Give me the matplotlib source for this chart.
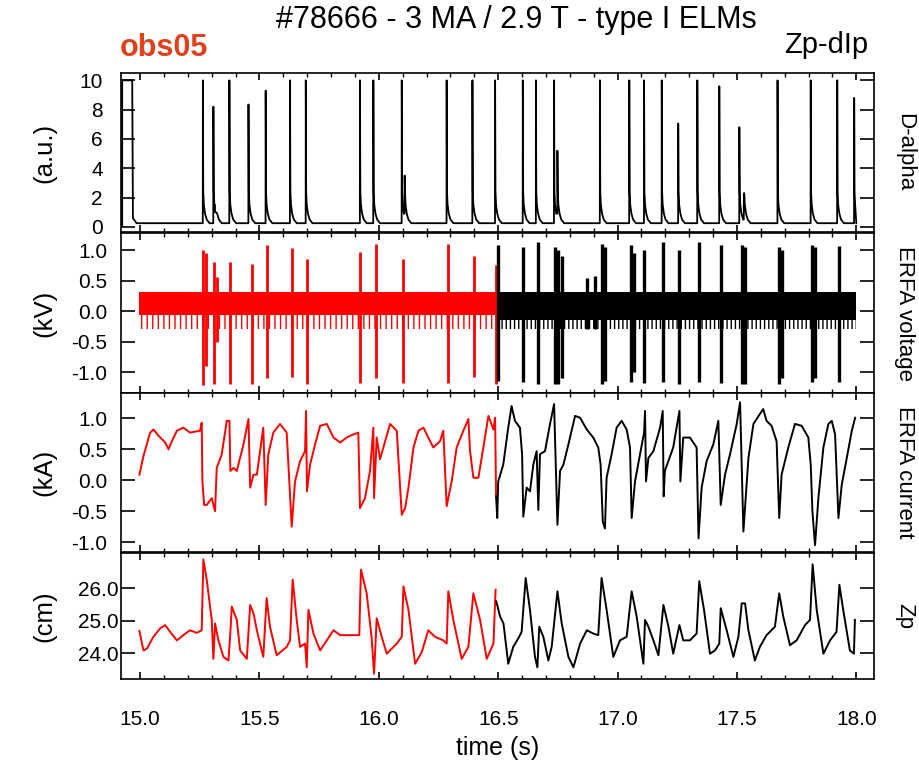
import matplotlib
matplotlib.use("Agg")
import matplotlib.pyplot as plt
import numpy as np

plt.rcParams['font.family'] = ['Liberation Sans', 'DejaVu Sans']
plt.rcParams['hatch.linewidth'] = 1.0

# ---------------- data ----------------
# ELM times (s) and D-alpha peak heights (a.u.)
elm_t = [15.263, 15.307, 15.374, 15.454, 15.526, 15.628, 15.694, 15.921, 15.977,
         16.096, 16.284, 16.392, 16.487, 16.603, 16.658, 16.734, 16.926, 17.049,
         17.111, 17.185, 17.254, 17.334, 17.426, 17.510, 17.670, 17.809, 17.920, 17.991]
elm_peak = [10, 8.2, 10, 8.35, 9.3, 10, 10, 10, 10,
            10, 10, 10, 10, 10, 10, 10, 10, 10,
            10, 10, 7.05, 10, 9.6, 6.8, 10, 10, 10, 8.8]
# secondary small D-alpha bursts
bump_t = [15.314, 16.108, 16.748, 17.529]
bump_h = [1.0, 3.5, 5.2, 2.3]
# D-alpha decay after a burst: delay (s) and level (a.u.)
decay_dt = [0.0015, 0.004, 0.009, 0.016, 0.028]
decay_lvl = [2.4, 1.5, 0.9, 0.5, 0.25]
dalpha_base = 0.25
# saturated start of the trace
dalpha_start_t = [14.925, 14.925, 14.967, 14.970, 14.985]
dalpha_start_v = [0.0, 10.0, 10.0, 0.6, 0.25]
dalpha_end_t = 18.0

# ERFA voltage: switching band envelope (kV)
band_hi = 0.32
band_lo_sparse = -0.30
band_red_t = [14.995, 16.49]
band_red_lo_dense = -0.07
band_black_t = [16.49, 18.0]
band_black_lo_dense = -0.15
# ERFA voltage spikes: time, max, min (red part)
vr_t = [15.262, 15.276, 15.311, 15.321, 15.377, 15.468, 15.530, 15.635, 15.701,
        15.921, 15.988, 16.103, 16.291, 16.400, 16.491]
vr_hi = [1.00, 0.95, 0.81, 0.56, 0.80, 0.78, 1.08, 1.03, 0.86,
         0.97, 1.10, 0.85, 1.10, 0.90, 0.75]
vr_lo = [-1.21, -0.90, -1.20, -0.50, -1.20, -1.20, -1.10, -1.08, -1.20,
         -1.17, -1.10, -1.17, -1.17, -1.08, -1.20]
# black part
vb_t = [16.500, 16.605, 16.668, 16.738, 16.752, 16.766, 16.871, 16.906, 16.933, 16.947,
        17.055, 17.069, 17.112, 17.189, 17.259, 17.339, 17.432, 17.520, 17.534,
        17.674, 17.687, 17.813, 17.827, 17.929]
vb_hi = [1.08, 1.05, 1.13, 1.05, 1.00, 0.90, 0.54, 0.58, 1.10, 1.05,
         1.08, 0.95, 1.00, 1.13, 1.00, 1.13, 1.08, 1.08, 1.05,
         1.05, 1.00, 1.08, 1.05, 1.06]
vb_lo = [-1.15, -1.16, -1.20, -1.20, -1.20, -1.10, -0.30, -0.30, -1.19, -1.15,
         -1.16, -1.00, -1.17, -1.16, -1.20, -1.16, -1.17, -1.20, -1.20,
         -1.20, -1.10, -1.16, -1.10, -1.16]

# ERFA current (kA)
cur_red_t = [14.997, 15.014, 15.042, 15.056, 15.077, 15.105, 15.119, 15.133, 15.154, 15.181,
             15.209, 15.251, 15.258, 15.261, 15.268, 15.279, 15.300, 15.314, 15.321, 15.342,
             15.363, 15.374, 15.378, 15.391, 15.405, 15.433, 15.454, 15.461, 15.475, 15.489,
             15.516, 15.526, 15.537, 15.558, 15.586, 15.614, 15.635, 15.649, 15.670, 15.691,
             15.695, 15.699, 15.712, 15.733, 15.754, 15.782, 15.810, 15.838, 15.865, 15.893,
             15.914, 15.921, 15.942, 15.963, 15.977, 15.980, 15.991, 16.005, 16.019, 16.047,
             16.075, 16.096, 16.110, 16.124, 16.145, 16.166, 16.187, 16.207, 16.228, 16.256,
             16.270, 16.284, 16.305, 16.326, 16.354, 16.375, 16.382, 16.396, 16.417, 16.431,
             16.459, 16.480, 16.487, 16.491]
cur_red_v = [0.09, 0.39, 0.77, 0.82, 0.72, 0.61, 0.50, 0.63, 0.80, 0.85,
             0.77, 0.80, 0.93, -0.02, -0.40, -0.40, -0.29, -0.50, 0.20, 0.42,
             0.96, 0.96, 0.15, 0.20, 0.15, 0.58, 0.99, -0.12, 0.09, 0.09,
             0.85, -0.40, 0.42, 0.77, 0.91, 0.77, -0.75, -0.02, 0.31, 0.47,
             1.12, -0.18, 0.25, 0.58, 0.88, 0.91, 0.69, 0.61, 0.69, 0.74,
             0.77, -0.45, -0.29, 0.15, 0.85, -0.29, 0.69, 0.34, 0.53, 0.91,
             0.80, -0.56, -0.45, -0.12, 0.53, 0.80, 0.85, 0.69, 0.53, 0.63,
             0.80, -0.42, -0.02, 0.53, 0.80, 0.99, 0.47, 0.04, 0.04, 0.37,
             1.04, 0.82, 1.01, -0.26]
cur_blk_t = [16.491, 16.496, 16.500, 16.521, 16.542, 16.556, 16.570, 16.591, 16.600, 16.605,
             16.619, 16.633, 16.647, 16.661, 16.668, 16.675, 16.696, 16.717, 16.734, 16.748,
             16.759, 16.773, 16.794, 16.822, 16.843, 16.871, 16.898, 16.919, 16.929, 16.938,
             16.947, 16.954, 16.975, 16.996, 17.017, 17.038, 17.052, 17.059, 17.073, 17.094,
             17.111, 17.115, 17.119, 17.129, 17.150, 17.178, 17.189, 17.193, 17.198, 17.233,
             17.259, 17.263, 17.275, 17.303, 17.331, 17.339, 17.352, 17.373, 17.401, 17.422,
             17.432, 17.450, 17.471, 17.499, 17.513, 17.527, 17.548, 17.569, 17.596, 17.610,
             17.624, 17.645, 17.666, 17.677, 17.687, 17.715, 17.743, 17.771, 17.799, 17.809,
             17.816, 17.827, 17.841, 17.862, 17.883, 17.897, 17.911, 17.925, 17.939, 17.960,
             17.981, 17.995]
cur_blk_v = [-0.26, -0.61, -0.02, 0.25, 0.85, 1.20, 0.96, 0.85, 0.42, -0.59,
             -0.12, -0.18, 0.25, 0.47, -0.48, 0.42, 0.47, 0.91, 1.23, -0.72,
             0.15, 0.25, 0.58, 1.04, 1.01, 0.82, 0.69, 0.53, 0.25, -0.67,
             -0.78, 0.04, 0.42, 0.85, 0.96, 0.82, 0.53, -0.61, -0.02, 0.42,
             0.77, 1.12, -0.02, 0.36, 0.47, 0.85, 1.12, -0.26, 0.15, 0.53,
             1.12, -0.02, 0.69, 0.69, 0.53, -0.94, -0.12, 0.31, 0.58, 0.96,
             -0.40, 0.09, 0.42, 0.91, 1.26, -0.83, 0.36, 0.91, 1.07, 1.15,
             0.96, 0.88, 0.63, -0.61, 0.09, 0.53, 0.91, 0.88, 0.69, 0.25,
             -0.50, -1.05, -0.29, 0.53, 0.91, 0.96, 0.74, -0.61, -0.07, 0.36,
             0.80, 1.01]

# Zp (cm)
zp_red_t = [14.997, 15.014, 15.028, 15.056, 15.084, 15.105, 15.126, 15.154, 15.181, 15.209,
            15.237, 15.258, 15.265, 15.279, 15.300, 15.307, 15.314, 15.328, 15.349, 15.370,
            15.377, 15.384, 15.405, 15.419, 15.447, 15.461, 15.475, 15.489, 15.516, 15.530,
            15.544, 15.572, 15.614, 15.628, 15.639, 15.656, 15.670, 15.691, 15.698, 15.705,
            15.726, 15.754, 15.782, 15.810, 15.838, 15.893, 15.918, 15.925, 15.949, 15.970,
            15.980, 15.991, 16.012, 16.033, 16.075, 16.096, 16.103, 16.124, 16.152, 16.180,
            16.207, 16.235, 16.270, 16.284, 16.291, 16.312, 16.347, 16.375, 16.396, 16.424,
            16.452, 16.480, 16.489]
zp_red_v = [24.68, 24.08, 24.13, 24.50, 24.76, 24.86, 24.65, 24.39, 24.55, 24.70,
            24.62, 24.70, 26.88, 26.26, 25.02, 23.82, 24.91, 24.39, 23.88, 23.77,
            24.50, 25.43, 25.02, 24.08, 23.82, 25.48, 25.22, 24.70, 23.88, 25.69,
            24.81, 23.93, 24.19, 24.39, 26.26, 25.02, 24.19, 24.29, 23.56, 25.33,
            24.60, 24.08, 24.39, 24.70, 24.55, 24.55, 24.55, 26.57, 25.84, 24.45,
            23.36, 25.07, 24.50, 23.98, 24.29, 24.50, 26.05, 25.33, 23.67, 24.03,
            24.70, 24.50, 24.39, 24.29, 25.90, 25.02, 23.82, 24.19, 25.84, 25.02,
            23.82, 24.29, 25.95]
zp_blk_t = [16.492, 16.508, 16.522, 16.542, 16.563, 16.584, 16.598, 16.615, 16.633, 16.654,
            16.664, 16.672, 16.689, 16.710, 16.724, 16.748, 16.766, 16.794, 16.815, 16.843,
            16.871, 16.898, 16.919, 16.933, 16.954, 16.982, 17.010, 17.038, 17.059, 17.080,
            17.108, 17.115, 17.129, 17.150, 17.171, 17.192, 17.213, 17.233, 17.259, 17.275,
            17.303, 17.331, 17.342, 17.362, 17.387, 17.408, 17.426, 17.432, 17.457, 17.485,
            17.506, 17.520, 17.534, 17.548, 17.575, 17.596, 17.624, 17.659, 17.677, 17.694,
            17.722, 17.750, 17.785, 17.806, 17.817, 17.834, 17.862, 17.890, 17.917, 17.929,
            17.945, 17.973, 17.990, 17.994]
zp_blk_v = [25.59, 25.12, 24.91, 23.67, 24.19, 24.45, 24.65, 26.31, 25.33, 23.88,
            23.56, 24.81, 24.50, 23.77, 24.19, 25.90, 24.91, 23.88, 23.56, 24.29,
            24.70, 24.60, 24.55, 26.31, 25.33, 23.88, 24.39, 24.50, 25.90, 25.12,
            23.67, 25.02, 24.81, 24.39, 23.93, 25.48, 24.81, 23.98, 24.86, 24.39,
            24.39, 24.60, 26.21, 25.33, 23.98, 24.08, 24.29, 25.38, 24.70, 23.88,
            24.50, 25.53, 25.53, 24.70, 23.77, 24.19, 24.55, 24.81, 25.84, 25.12,
            24.24, 24.39, 24.86, 25.02, 26.73, 25.33, 23.98, 24.39, 24.65, 26.10,
            25.33, 24.08, 23.98, 25.02]

# axis / text
xlim = (14.920, 18.074)
ylims = [(-0.35, 10.5), (-1.34, 1.28), (-1.16, 1.41), (23.2, 27.08)]
yticks = [[0, 2, 4, 6, 8, 10], [-1.0, -0.5, 0.0, 0.5, 1.0], [-1.0, -0.5, 0.0, 0.5, 1.0], [24.0, 25.0, 26.0]]
ytick_labels = [["0", "2", "4", "6", "8", "10"],
                ["-1.0", "-0.5", "0.0", "0.5", "1.0"],
                ["-1.0", "-0.5", "0.0", "0.5", "1.0"],
                ["24.0", "25.0", "26.0"]]
ytick_pads = [13, 10, 10, 2]
left_labels = ["(a.u.)", "(kV)", "(kA)", "(cm)"]
right_labels = ["D-alpha", "ERFA voltage", "ERFA current", "Zp"]
xticks = [15.0, 15.5, 16.0, 16.5, 17.0, 17.5, 18.0]
xtick_labels = ["15.0", "15.5", "16.0", "16.5", "17.0", "17.5", "18.0"]

RED = '#ff0000'
OBS = '#e2401c'

# ---------------- build D-alpha trace ----------------
events = sorted([(t, h) for t, h in zip(elm_t, elm_peak)] + [(t, h) for t, h in zip(bump_t, bump_h)])
da_t = list(dalpha_start_t)
da_v = list(dalpha_start_v)
for i, (t, h) in enumerate(events):
    nxt = events[i + 1][0] if i + 1 < len(events) else dalpha_end_t
    prev_level = da_v[-1] if da_t and da_t[-1] > t - 0.03 else dalpha_base
    da_t += [t - 0.0005, t]
    da_v += [max(prev_level, dalpha_base), h]
    for dt, lv in zip(decay_dt, decay_lvl):
        if t + dt < nxt - 0.001:
            da_t.append(t + dt)
            da_v.append(min(lv, h))
da_t.append(dalpha_end_t)
da_v.append(dalpha_base)

# ---------------- figure ----------------
fig = plt.figure(figsize=(9.19, 7.69), dpi=100)
L = 121 / 919
W = (874 - 121) / 919
rows = [(73, 232), (233, 393), (393, 552), (553, 679)]
axes = []
for (top, bot) in rows:
    ax = fig.add_axes([L, 1 - bot / 769, W, (bot - top) / 769])
    axes.append(ax)

lw = 1.4
axes[0].plot(da_t, da_v, color='black', lw=1.3)

ax = axes[1]
ax.fill_between(band_red_t, [band_hi] * 2, [band_red_lo_dense] * 2, color=RED, lw=0)
ax.fill_between(band_red_t, [band_red_lo_dense] * 2, [band_lo_sparse] * 2, facecolor='none',
                edgecolor=RED, hatch='|||', lw=0)
ax.fill_between(band_black_t, [band_hi] * 2, [band_black_lo_dense] * 2, color='black', lw=0)
ax.fill_between(band_black_t, [band_black_lo_dense] * 2, [band_lo_sparse] * 2, facecolor='none',
                edgecolor='black', hatch='||||', lw=0)
ax.vlines(vr_t, vr_lo, vr_hi, color=RED, lw=2.0)
ax.vlines(vb_t, vb_lo, vb_hi, color='black', lw=2.4)

axes[2].plot(cur_red_t, cur_red_v, color=RED, lw=lw)
axes[2].plot(cur_blk_t, cur_blk_v, color='black', lw=lw)
axes[3].plot(zp_red_t, zp_red_v, color=RED, lw=lw)
axes[3].plot(zp_blk_t, zp_blk_v, color='black', lw=lw)

for i, ax in enumerate(axes):
    ax.set_xlim(*xlim)
    ax.set_ylim(*ylims[i])
    for s in ax.spines.values():
        s.set_linewidth(1.2)
    ax.set_xticks(xticks)
    ax.set_xticks(np.arange(15.0, 18.05, 0.1), minor=True)
    ax.set_yticks(yticks[i])
    ax.set_yticklabels(ytick_labels[i], fontsize=15)
    ax.tick_params(axis='x', which='major', direction='in', top=True, bottom=True, length=5, width=1.2)
    ax.tick_params(axis='x', which='minor', direction='in', top=True, bottom=True, length=3, width=1.0)
    ax.tick_params(axis='y', which='major', direction='in', left=True, right=True, length=10,
                   width=1.2, pad=ytick_pads[i])
    if i < 3:
        ax.set_xticklabels([])
    else:
        ax.set_xticklabels(xtick_labels, fontsize=15)
        ax.tick_params(axis='x', which='major', pad=22)
    ax.set_ylabel(left_labels[i], fontsize=18.5)
    ax.yaxis.set_label_coords(-0.086, 0.5)
    ax.text(1.041, 0.5, right_labels[i], transform=ax.transAxes, rotation=-90,
            ha='center', va='center', fontsize=16)

axes[3].set_xlabel("time (s)", fontsize=18, labelpad=5)

fig.text(0.5615, 0.974, "#78666 - 3 MA / 2.9 T - type I ELMs", ha='center', va='center', fontsize=22)
fig.text(0.1306, 0.9376, "obs05", ha='left', va='center', fontsize=22, fontweight='bold', color=OBS)
fig.text(0.9445, 0.9415, "Zp-dIp", ha='right', va='center', fontsize=21)

fig.savefig("out.png", dpi=100)
